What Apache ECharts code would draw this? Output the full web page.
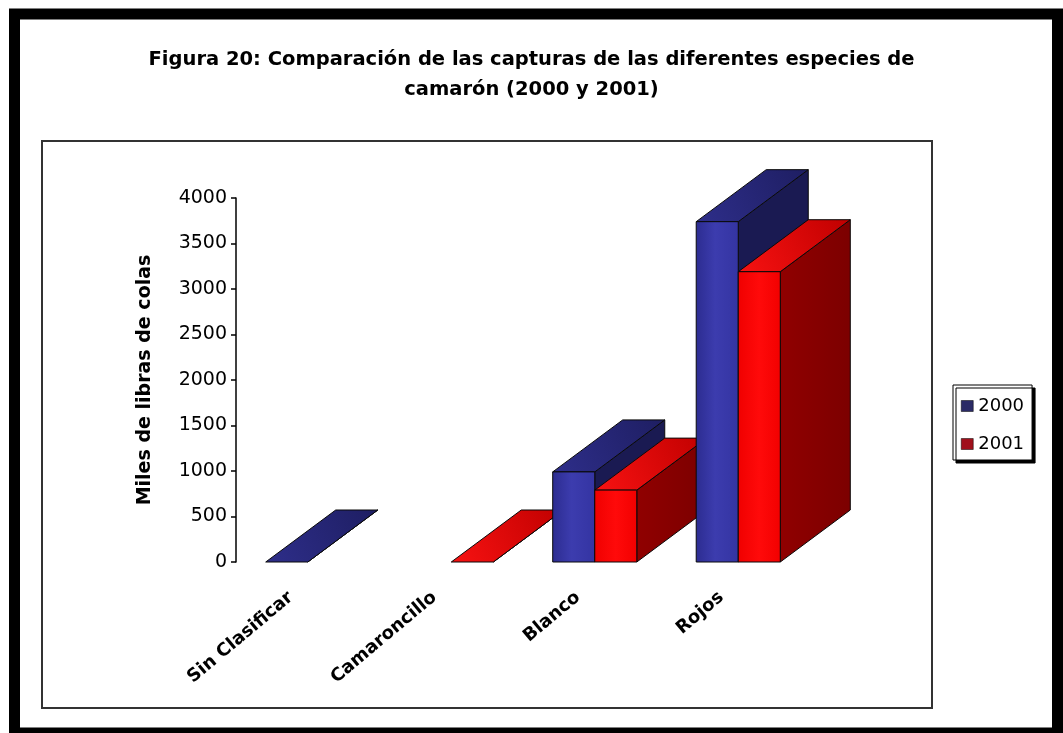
<!DOCTYPE html>
<html>
<head>
<meta charset="utf-8">
<script src="https://cdn.jsdelivr.net/npm/echarts@6/dist/echarts.min.js"></script>
<style>
  html, body { margin: 0; padding: 0; background: #ffffff; }
  #chart { width: 1063px; height: 733px; }
</style>
</head>
<body>
<div id="chart"></div>
<script>
// Shrimp catch by species, thousands of pounds of tails
const categories = ['Sin Clasificar', 'Camaroncillo', 'Blanco', 'Rojos'];
const capturas2000 = [0, null, 990, 3740];
const capturas2001 = [null, 0, 790, 3190];
const seriesNames = ['2000', '2001'];
const yMin = 0;
const yMax = 4000;
const yStep = 500;

const FONT = 'DejaVu Sans';

// Pseudo-3D column look: fixed receding depth in pixels
const DEPTH_X = 70;
const DEPTH_Y = 52;
const BAR_RATIO = 0.293; // bar width as share of a category band

const palettes = [
  { // 2000
    legend: '#2b2b66',
    front: new echarts.graphic.LinearGradient(0, 0, 1, 0, [
      { offset: 0, color: '#2c2c90' },
      { offset: 0.45, color: '#3c3cae' },
      { offset: 1, color: '#3434a2' }
    ]),
    top: new echarts.graphic.LinearGradient(0, 1, 1, 0, [
      { offset: 0, color: '#2e2e8a' },
      { offset: 1, color: '#1e1e62' }
    ]),
    side: '#1a1a52'
  },
  { // 2001
    legend: '#a0101c',
    front: new echarts.graphic.LinearGradient(0, 0, 1, 0, [
      { offset: 0, color: '#f00000' },
      { offset: 0.5, color: '#ff0a0a' },
      { offset: 1, color: '#f20000' }
    ]),
    top: new echarts.graphic.LinearGradient(0, 1, 1, 0, [
      { offset: 0, color: '#f81212' },
      { offset: 1, color: '#c00000' }
    ]),
    side: new echarts.graphic.LinearGradient(0, 0, 1, 0, [
      { offset: 0, color: '#900000' },
      { offset: 1, color: '#7c0000' }
    ])
  }
];

function toData(values) {
  const out = [];
  values.forEach(function (v, i) {
    if (v !== null && v !== undefined) out.push([i, v]);
  });
  return out;
}

function makeRenderer(sIdx) {
  const pal = palettes[sIdx];
  return function (params, api) {
    const cat = api.value(0);
    const val = api.value(1);
    const base = api.coord([cat, 0]);
    const top = api.coord([cat, val]);
    const band = api.size([1, 0])[0];
    const w = band * BAR_RATIO;
    const x0 = base[0] - w + sIdx * w;
    const x1 = x0 + w;
    const yb = base[1];
    const yt = top[1];
    const order = cat * 10 + sIdx * 4;
    const edge = { stroke: '#0a0a0a', lineWidth: 1, lineJoin: 'round' };
    const children = [
      {
        type: 'polygon', z2: order + 1,
        shape: { points: [[x1, yt], [x1 + DEPTH_X, yt - DEPTH_Y], [x1 + DEPTH_X, yb - DEPTH_Y], [x1, yb]] },
        style: Object.assign({ fill: pal.side }, edge)
      },
      {
        type: 'polygon', z2: order + 2,
        shape: { points: [[x0, yt], [x1, yt], [x1 + DEPTH_X, yt - DEPTH_Y], [x0 + DEPTH_X, yt - DEPTH_Y]] },
        style: Object.assign({ fill: pal.top }, edge)
      }
    ];
    if (yb - yt > 0.5) {
      children.push({
        type: 'rect', z2: order + 3,
        shape: { x: x0, y: yt, width: w, height: yb - yt },
        style: Object.assign({ fill: pal.front }, edge)
      });
    }
    return { type: 'group', children: children };
  };
}

const chart = echarts.init(document.getElementById('chart'), null, { renderer: 'canvas' });

chart.setOption({
  animation: false,
  backgroundColor: '#ffffff',
  title: {
    text: 'Figura 20: Comparación de las capturas de las diferentes especies de\ncamarón (2000 y 2001)',
    left: 'center',
    top: 40,
    textStyle: {
      fontFamily: FONT,
      fontSize: 19.5,
      fontWeight: 'bold',
      color: '#000000',
      lineHeight: 30
    }
  },
  legend: {
    orient: 'vertical',
    left: 953,
    top: 385,
    padding: [12, 8, 7, 8],
    itemGap: 20,
    itemWidth: 12,
    itemHeight: 11,
    icon: 'rect',
    backgroundColor: '#ffffff',
    borderColor: '#000000',
    borderWidth: 1,
    borderRadius: 0,
    shadowColor: '#000000',
    shadowBlur: 0,
    shadowOffsetX: 3,
    shadowOffsetY: 3,
    textStyle: { fontFamily: FONT, fontSize: 18, color: '#000000' },
    data: [
      { name: seriesNames[0], itemStyle: { color: palettes[0].legend, borderColor: '#000', borderWidth: 0.5 } },
      { name: seriesNames[1], itemStyle: { color: palettes[1].legend, borderColor: '#000', borderWidth: 0.5 } }
    ]
  },
  grid: {
    left: 236,
    top: 198,
    width: 574,
    height: 364,
    containLabel: false,
    outerBoundsMode: 'none'
  },
  xAxis: {
    type: 'category',
    data: categories,
    axisLine: { show: false },
    axisTick: { show: false },
    splitLine: { show: false },
    axisLabel: {
      interval: 0,
      rotate: 40,
      margin: 19,
      padding: [0, 22, 0, 0],
      fontFamily: FONT,
      fontSize: 18,
      fontWeight: 'bold',
      color: '#000000'
    }
  },
  yAxis: {
    type: 'value',
    min: yMin,
    max: yMax,
    interval: yStep,
    name: 'Miles de libras de colas',
    nameLocation: 'middle',
    nameGap: 81,
    nameRotate: 90,
    nameTextStyle: {
      fontFamily: FONT,
      fontSize: 19,
      fontWeight: 'bold',
      color: '#000000'
    },
    axisLine: { show: true, lineStyle: { color: '#000000', width: 1.5 } },
    axisTick: { show: true, inside: false, length: 5, lineStyle: { color: '#000000', width: 1.5 } },
    splitLine: { show: false },
    axisLabel: {
      margin: 9,
      fontFamily: FONT,
      fontSize: 19,
      color: '#000000',
      formatter: function (v) { return String(v); }
    }
  },
  graphic: [
    { // outer black frame
      type: 'rect',
      silent: true,
      z: 100,
      shape: { x: 14.5, y: 14, width: 1043, height: 719 },
      style: { fill: null, stroke: '#000000', lineWidth: 11 }
    },
    { // plot area border
      type: 'rect',
      silent: true,
      z: 100,
      shape: { x: 42, y: 141, width: 890, height: 567 },
      style: { fill: null, stroke: '#333333', lineWidth: 2 }
    }
  ],
  series: [
    {
      name: seriesNames[0],
      type: 'custom',
      itemStyle: { color: palettes[0].legend },
      renderItem: makeRenderer(0),
      encode: { x: 0, y: 1 },
      data: toData(capturas2000)
    },
    {
      name: seriesNames[1],
      type: 'custom',
      itemStyle: { color: palettes[1].legend },
      renderItem: makeRenderer(1),
      encode: { x: 0, y: 1 },
      data: toData(capturas2001)
    }
  ]
});
</script>
</body>
</html>
